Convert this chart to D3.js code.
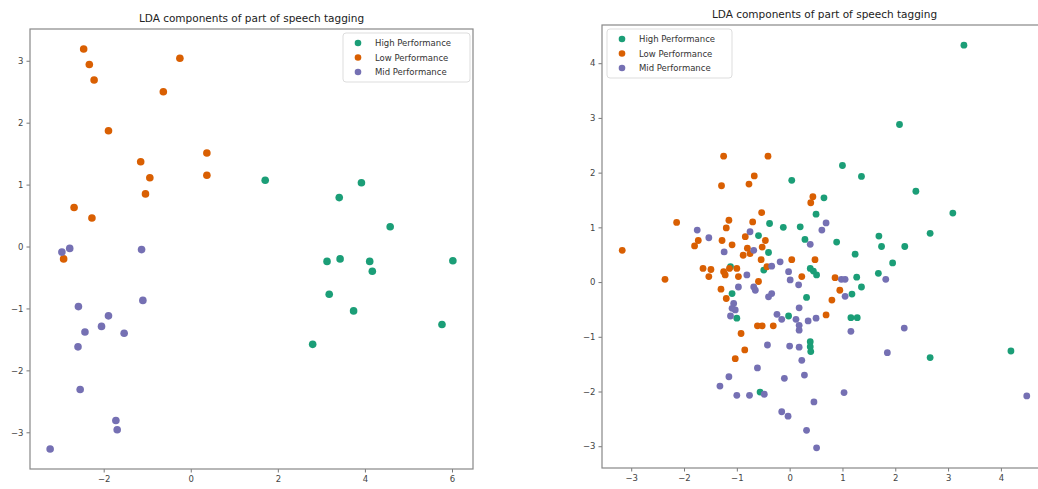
<!DOCTYPE html>
<html>
<head>
<meta charset="utf-8">
<script src="https://cdn.jsdelivr.net/npm/d3@7"></script>
<style>
  body { margin: 0; background: #fff; }
  svg { display: block; font-family: "DejaVu Sans", sans-serif; }
</style>
</head>
<body>
<div id="chart"></div>
<script>
// Series names and colours (matplotlib Dark2)
var categories = ["High Performance", "Low Performance", "Mid Performance"];
var colors = ["#1b9e77", "#d95f02", "#7570b3"];
var chartTitle = "LDA components of part of speech tagging";

// Left panel values [x, y]
var leftHigh = [[1.71,1.07],[3.41,0.79],[3.92,1.03],[4.58,0.32],[3.13,-0.24],[3.43,-0.20],[4.11,-0.24],
  [4.17,-0.40],[6.02,-0.23],[3.18,-0.77],[3.74,-1.04],[5.77,-1.26],[2.80,-1.58]];
var leftLow = [[-2.46,3.19],[-2.33,2.94],[-2.22,2.69],[-0.25,3.04],[-0.63,2.50],[-1.89,1.87],[-1.15,1.37],
  [-0.94,1.11],[-1.04,0.85],[0.37,1.51],[0.37,1.15],[-2.68,0.63],[-2.27,0.46],[-2.92,-0.20]];
var leftMid = [[-2.96,-0.09],[-2.78,-0.03],[-1.13,-0.05],[-1.10,-0.87],[-2.58,-0.97],[-1.89,-1.12],[-2.05,-1.29],
  [-2.43,-1.38],[-1.53,-1.40],[-2.59,-1.62],[-2.54,-2.31],[-1.72,-2.81],[-1.69,-2.96],[-3.23,-3.27]];

// Right panel values [x, y]
var rightHigh = [[3.30,4.33],[2.08,2.88],[1.00,2.13],[1.36,1.93],[0.04,1.86],[2.39,1.66],[0.65,1.54],[0.50,1.24],
  [3.09,1.26],[-0.38,1.07],[-0.12,1.00],[0.20,1.01],[2.66,0.89],[1.69,0.84],[-0.59,0.85],[0.89,0.73],[0.29,0.78],
  [1.74,0.65],[2.18,0.65],[-0.40,0.54],[1.24,0.51],[1.95,0.35],[-0.49,0.22],[0.39,0.25],[0.51,0.13],[0.45,0.20],
  [1.27,0.09],[1.36,-0.09],[1.68,0.16],[1.18,-0.22],[0.32,-0.28],[-1.09,-0.21],[-1.12,0.28],[-1.00,-0.66],
  [-0.02,-0.62],[1.16,-0.65],[1.28,-0.65],[0.39,-1.09],[0.39,-1.18],[0.40,-1.27],[2.66,-1.38],[4.19,-1.26],[-0.56,-2.01]];
var rightLow = [[-1.25,2.30],[-0.41,2.30],[-0.67,1.94],[-1.29,1.76],[-0.77,1.79],[0.44,1.56],[0.40,1.45],[-0.53,1.27],
  [-2.14,1.09],[-1.15,1.13],[-1.20,0.99],[-0.70,1.10],[-1.28,0.76],[-1.09,0.68],[-0.84,0.83],[-0.46,0.76],[-1.73,0.76],
  [-1.80,0.66],[-3.17,0.58],[-0.88,0.49],[-0.75,0.52],[-0.54,0.41],[-0.52,0.64],[-0.80,0.62],[-1.64,0.25],[-1.49,0.23],
  [-1.53,0.10],[-1.25,0.19],[-1.14,0.25],[-1.22,0.13],[-1.00,0.25],[-0.97,0.10],[-0.43,0.28],[0.04,0.41],[0.48,0.41],
  [0.23,0.10],[0.86,0.08],[0.95,-0.15],[0.80,-0.33],[-1.30,-0.13],[-1.20,-0.30],[-0.59,0.01],[0.69,-0.60],[-0.61,-0.80],
  [-0.52,-0.80],[-0.31,-0.80],[-0.92,-0.94],[-0.85,-1.24],[-1.03,-1.40],[-2.36,0.05]];
var rightMid = [[-1.75,0.95],[-1.53,0.81],[-0.75,0.92],[0.69,1.08],[0.61,0.95],[0.39,0.69],[-1.24,0.55],[-0.68,0.58],
  [-0.81,0.13],[-0.34,0.29],[-0.18,0.37],[-0.02,0.19],[0.01,0.04],[0.17,-0.05],[0.98,0.05],[1.05,0.05],[1.82,0.05],
  [1.05,-0.26],[-1.06,-0.39],[-0.97,-0.09],[-0.68,-0.09],[-0.65,-0.15],[-0.40,-0.27],[-0.34,-0.21],[-1.03,-0.51],
  [-1.12,-0.62],[0.18,-0.47],[-0.24,-0.59],[-0.15,-0.68],[0.12,-0.68],[0.18,-0.79],[0.18,-0.88],[0.35,-0.71],
  [0.50,-0.66],[1.16,-0.90],[2.17,-0.84],[-0.42,-1.15],[0.00,-1.17],[0.18,-1.19],[0.23,-1.43],[1.85,-1.29],
  [-0.61,-1.57],[-1.15,-1.73],[-1.32,-1.90],[-1.00,-2.07],[-0.76,-2.07],[-0.48,-2.05],[-0.10,-1.76],[0.28,-1.70],
  [1.03,-2.02],[0.46,-2.19],[-0.15,-2.37],[-0.03,-2.45],[0.32,-2.71],[0.51,-3.03],[4.49,-2.08],[-1.09,-0.48]];

// Tick values
var leftXTicks = [-2, 0, 2, 4, 6];
var leftYTicks = [-3, -2, -1, 0, 1, 2, 3];
var rightXTicks = [-3, -2, -1, 0, 1, 2, 3, 4];
var rightYTicks = [-3, -2, -1, 0, 1, 2, 3, 4];

var svg = d3.select("#chart").append("svg")
  .attr("width", 1038)
  .attr("height", 489);

// matplotlib style auto limits: data extent plus 5% each side
function paddedExtent(values) {
  var ext = d3.extent(values);
  var pad = (ext[1] - ext[0]) * 0.05;
  return [ext[0] - pad, ext[1] + pad];
}

function drawPanel(p) {
  var all = [].concat.apply([], p.series);
  var x = d3.scaleLinear().domain(paddedExtent(all.map(function(d) { return d[0]; }))).range([p.left, p.right]);
  var y = d3.scaleLinear().domain(paddedExtent(all.map(function(d) { return d[1]; }))).range([p.bottom, p.top]);

  var g = svg.append("g");

  // points, High first so Mid ends on top
  p.series.forEach(function(data, i) {
    g.append("g").selectAll("circle")
      .data(data)
      .enter()
      .append("circle")
      .attr("cx", function(d) { return x(d[0]); })
      .attr("cy", function(d) { return y(d[1]); })
      .attr("r", p.radius)
      .attr("fill", colors[i]);
  });

  // axes
  var xAxis = g.append("g")
    .attr("transform", "translate(0," + p.bottom + ")")
    .call(d3.axisBottom(x).tickValues(p.xTicks).tickSize(3.5).tickPadding(3).tickFormat(d3.format("d")));
  var yAxis = g.append("g")
    .attr("transform", "translate(" + p.left + ",0)")
    .call(d3.axisLeft(y).tickValues(p.yTicks).tickSize(3.5).tickPadding(3).tickFormat(d3.format("d")));
  [xAxis, yAxis].forEach(function(a) {
    a.select(".domain").remove();
    a.selectAll("line").attr("stroke", "#777");
    a.selectAll("text").attr("fill", "#444").attr("font-size", "8.5px").attr("font-family", "DejaVu Sans, sans-serif");
  });

  // frame
  g.append("rect")
    .attr("x", p.left)
    .attr("y", p.top)
    .attr("width", p.right - p.left)
    .attr("height", p.bottom - p.top)
    .attr("fill", "none")
    .attr("stroke", "#888")
    .attr("stroke-width", 1.2);

  g.append("text")
    .text(chartTitle)
    .attr("x", (p.left + p.right) / 2)
    .attr("y", p.top - 7)
    .attr("text-anchor", "middle")
    .attr("font-size", "10.5px")
    .attr("fill", "#222");

  // legend
  var lg = g.append("g").attr("transform", "translate(" + p.legendX + "," + p.legendY + ")");
  lg.append("rect")
    .attr("width", p.legendW)
    .attr("height", 49)
    .attr("rx", 3)
    .attr("fill", "#fff")
    .attr("fill-opacity", 0.8)
    .attr("stroke", "#ddd");
  categories.forEach(function(name, i) {
    lg.append("circle")
      .attr("cx", 15)
      .attr("cy", 10 + i * 14.5)
      .attr("r", 3.3)
      .attr("fill", colors[i]);
    lg.append("text")
      .text(name)
      .attr("x", 32)
      .attr("y", 13 + i * 14.5)
      .attr("font-size", "8.5px")
      .attr("fill", "#333");
  });
}

drawPanel({
  series: [leftHigh, leftLow, leftMid],
  left: 30, right: 473, top: 29, bottom: 469,
  xTicks: leftXTicks, yTicks: leftYTicks,
  radius: 3.8,
  legendX: 343, legendY: 33, legendW: 127
});

drawPanel({
  series: [rightHigh, rightLow, rightMid],
  left: 602, right: 1047, top: 25, bottom: 468,
  xTicks: rightXTicks, yTicks: rightYTicks,
  radius: 3.4,
  legendX: 607, legendY: 29, legendW: 125
});
</script>
</body>
</html>
